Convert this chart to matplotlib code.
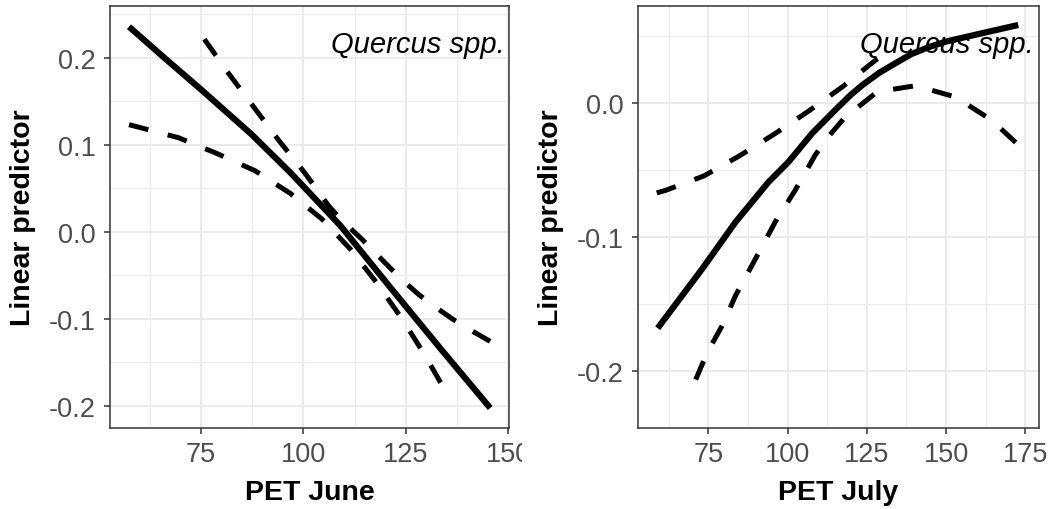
import matplotlib.pyplot as plt
from matplotlib.ticker import MultipleLocator, FormatStrFormatter
from matplotlib.transforms import Bbox, TransformedBbox

plt.rcParams['font.family'] = ['Liberation Sans', 'DejaVu Sans']

# PET June panel: fitted line and the two dashed bands
june_x = [57.4, 66.0, 75.1, 87.3, 96.8, 101.2, 109.0, 121.2, 133.4, 145.6]
june_fit = [0.2356, 0.200, 0.163, 0.112, 0.068, 0.046, 0.007, -0.064, -0.134, -0.2026]
june_up_x = [75.8, 81.7, 87.8, 93.9, 100.4, 106.1, 109.0, 114.2, 120.4, 124.0, 128.1, 131.7, 136.6, 140.3, 145.6]
june_up = [0.2212, 0.1821, 0.1437, 0.1054, 0.0671, 0.030, 0.0146, -0.0083, -0.0380, -0.0550, -0.0720, -0.0850, -0.1010, -0.1118, -0.126]
june_lo_x = [57.4, 59.3, 69.5, 78.8, 88.2, 96.8, 104.5, 111.4, 117.8, 123.8, 129.5, 134.4, 135.6]
june_lo = [0.123, 0.1207, 0.108, 0.090, 0.070, 0.044, 0.0146, -0.0197, -0.0582, -0.0984, -0.1406, -0.181, -0.1904]

# PET July panel
july_x = [59.0, 73.1, 83.6, 94.0, 100.3, 107.7, 115.0, 120.0, 123.6, 129.0, 134.1, 139.0, 144.5, 150.0, 160.0, 172.8]
july_fit = [-0.168, -0.1235, -0.0886, -0.0587, -0.0437, -0.0225, -0.0050, 0.0065, 0.0137, 0.0230, 0.0301, 0.0368, 0.0420, 0.0462, 0.0517, 0.0586]
july_up_x = [58.7, 61.6, 73.6, 84.8, 96.1, 106.6, 117.3, 127.8, 130.4]
july_up = [-0.0669, -0.0649, -0.0542, -0.0392, -0.0225, -0.0058, 0.0124, 0.0324, 0.0362]
july_lo_x = [71.0, 74.7, 79.4, 83.6, 89.9, 96.1, 102.4, 108.7, 112.4, 117.8, 128.3, 140.3, 152.9, 164.4, 172.8]
july_lo = [-0.2064, -0.1859, -0.1659, -0.1435, -0.116, -0.0886, -0.0649, -0.0387, -0.0262, -0.0112, 0.0087, 0.0132, 0.0049, -0.0125, -0.031]

fig = plt.figure(figsize=(10.52, 5.10), dpi=100)
ax1 = fig.add_axes([0.1043, 0.1588, 0.3798, 0.8275])
ax2 = fig.add_axes([0.6062, 0.1588, 0.3810, 0.8275])

dash = (0, (4.0, 4.0))


def style(ax):
    ax.xaxis.set_major_locator(MultipleLocator(25))
    ax.xaxis.set_minor_locator(MultipleLocator(12.5))
    ax.yaxis.set_major_locator(MultipleLocator(0.1))
    ax.yaxis.set_minor_locator(MultipleLocator(0.05))
    ax.yaxis.set_major_formatter(FormatStrFormatter('%.1f'))
    ax.grid(True, which='major', color='#EBEBEB', lw=1.5)
    ax.grid(True, which='minor', color='#EBEBEB', lw=0.8)
    ax.set_axisbelow(True)
    for s in ax.spines.values():
        s.set_color('#333333')
        s.set_linewidth(1.1)
    ax.tick_params(which='major', length=4, width=1.1, color='#333333',
                   labelsize=19.5, labelcolor='#4D4D4D')
    ax.tick_params(axis='x', which='major', pad=5.5)
    ax.tick_params(axis='y', which='major', pad=5.8)
    ax.tick_params(which='minor', length=0)
    ax.text(0.989, 0.892, 'Quercus spp.', transform=ax.transAxes, ha='right',
            va='baseline', fontsize=21, style='italic', zorder=2)


ax1.plot(june_x, june_fit, color='black', lw=4.5, zorder=3, solid_capstyle='butt')
ax1.plot(june_up_x, june_up, color='black', lw=3.6, ls=dash, zorder=3, dash_capstyle='butt')
ax1.plot(june_lo_x, june_lo, color='black', lw=3.6, ls=dash, zorder=3, dash_capstyle='butt')
ax1.set_xlim(52.7, 150.25)
ax1.set_ylim(-0.2256, 0.2594)
style(ax1)

ax2.plot(july_x, july_fit, color='black', lw=4.5, zorder=3, solid_capstyle='butt')
ax2.plot(july_up_x, july_up, color='black', lw=3.6, ls=dash, zorder=3, dash_capstyle='butt')
ax2.plot(july_lo_x, july_lo, color='black', lw=3.6, ls=dash, zorder=3, dash_capstyle='butt')
ax2.set_xlim(52.7, 179.2)
ax2.set_ylim(-0.2426, 0.0728)
style(ax2)

# the left panel is cut at its right edge, so "150" is only partly shown
clip = TransformedBbox(Bbox([[0, 0], [522 / 1052, 1]]), fig.transFigure)
fig.canvas.draw()
for lab in ax1.get_xticklabels():
    lab.set_clip_box(clip)
    lab.set_clip_on(True)

# axis titles
fig.text(0.2942, 0.0196, 'PET June', ha='center', va='baseline', fontsize=20.5, fontweight='bold')
fig.text(0.7967, 0.0196, 'PET July', ha='center', va='baseline', fontsize=20.5, fontweight='bold')
fig.text(0.0215, 0.5725, 'Linear predictor', rotation=90, ha='center', va='center',
         fontsize=20.5, fontweight='bold')
fig.text(0.5238, 0.5725, 'Linear predictor', rotation=90, ha='center', va='center',
         fontsize=20.5, fontweight='bold')

fig.savefig('out.png', dpi=100)
